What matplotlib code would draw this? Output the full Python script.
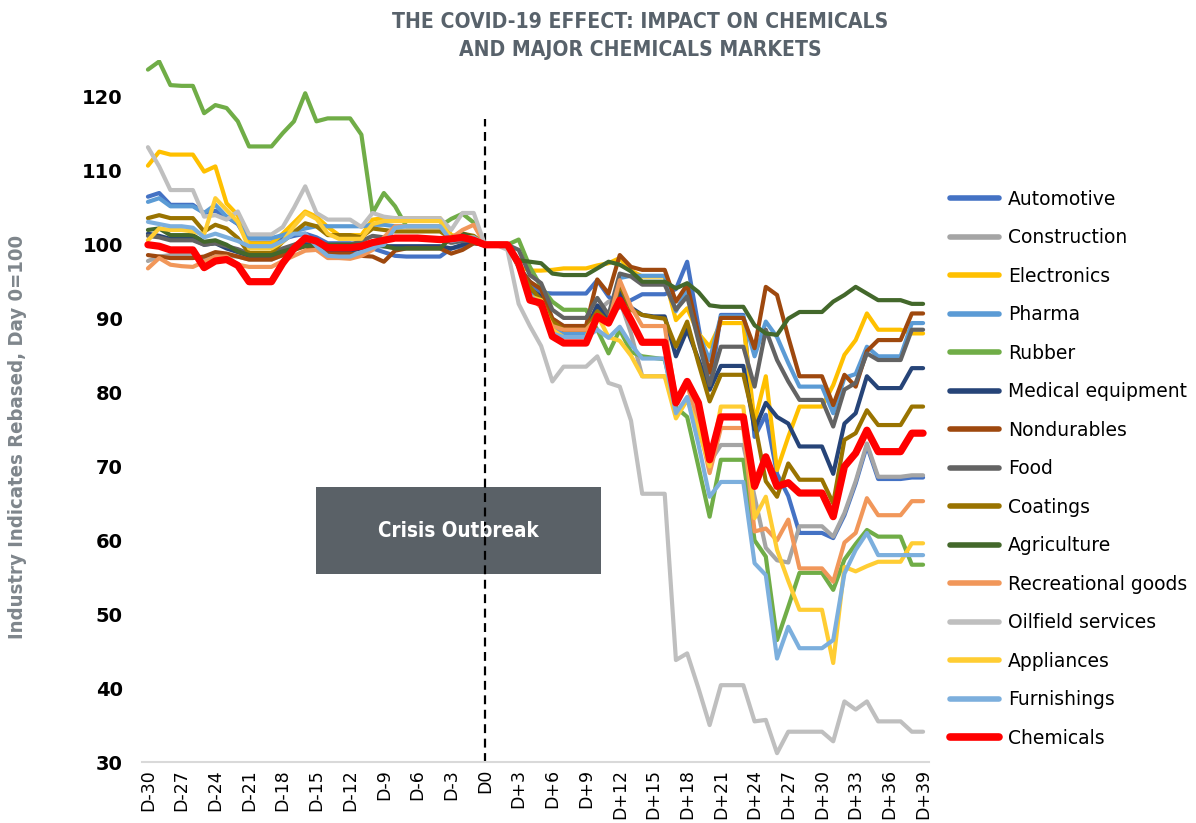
import numpy as np
import matplotlib
matplotlib.use('Agg')
import matplotlib.pyplot as plt
from matplotlib import font_manager
from matplotlib.patches import Rectangle

# narrow bold font for the title and axis label, if one is there
narrow_file = None
for f in font_manager.fontManager.ttflist:
    fn = f.fname.replace('-', '').replace('_', '').lower()
    if 'sansnarrowbold' in fn or 'sanscondensedbold' in fn:
        narrow_file = f.fname
        break

def narrow_font(size):
    if narrow_file:
        return font_manager.FontProperties(fname=narrow_file, size=size)
    return font_manager.FontProperties(family='DejaVu Sans', weight='bold', size=size * 0.88)

# day labels D-30 .. D+39
day_nums = list(range(-30, 40))
days = ['D0' if d == 0 else 'D%+d' % d for d in day_nums]

# index values (rebased, day 0 = 100)
automotive = [106.5, 107, 105.4, 105.4, 105.4, 104.3, 104.6, 103.8, 102.8, 100.3, 100.3, 100.3, 100.8, 101.2, 101.5,
              101, 100.2, 100.2, 100.2, 100, 99.5, 99, 98.5, 98.4, 98.4, 98.4, 98.4, 99.5, 99.8, 100.2,
              100, 100, 100, 97, 95, 93.5, 93.4, 93.4, 93.4, 93.4, 95.2, 93, 91.5, 92.5, 93.3, 93.3, 93.3,
              94, 97.7, 89, 80.4, 90.5, 90.5, 90.5, 74, 77, 69, 66, 61, 61, 61,
              60.3, 63.4, 67.7, 72.8, 68.3, 68.3, 68.3, 68.5, 68.5]
construction = [97.8, 98.4, 98.6, 98.6, 98.6, 98.2, 98.8, 98.5, 98.4, 98, 98, 98, 98.6, 99.2, 100.2,
                99.6, 99.2, 99.2, 99.2, 99.5, 100.2, 100.5, 100.8, 100.8, 100.8, 100.8, 100.8, 100.2, 100.6, 100.8,
                100, 100, 100, 97, 94, 93, 90, 89, 89, 89, 91, 92.3, 92.5, 88, 82.2, 82.2, 82.2,
                79, 81.3, 77, 70.5, 72.9, 72.9, 72.9, 65.9, 59, 57.3, 57, 61.9, 61.9, 61.9,
                60.5, 63.7, 68, 73.1, 68.6, 68.6, 68.6, 68.8, 68.8]
electronics = [110.7, 112.6, 112.2, 112.2, 112.2, 109.9, 110.6, 105.6, 104, 100.2, 100.2, 100.2, 101.5, 103, 104.5,
               103.8, 102.4, 101.3, 101.3, 101.3, 103.4, 103.6, 103.6, 103.6, 103.6, 103.6, 103.6, 101.3, 101.1, 101.1,
               100, 100, 100, 97, 96.5, 96.5, 96.6, 96.8, 96.8, 96.8, 97.2, 97.5, 98.2, 96.5, 95.7, 95.7, 95.7,
               89.8, 91.4, 88, 86.2, 89.4, 89.4, 89.4, 76, 82.2, 69.5, 74, 78.1, 78.1, 78.1,
               81, 85.1, 87.1, 90.7, 88.5, 88.5, 88.5, 88, 88]
pharma = [105.8, 106.3, 105.2, 105.2, 105.2, 104.3, 105.4, 103.8, 102.9, 100.9, 100.9, 100.9, 101.3, 101.8, 102.2,
          102.5, 102.5, 102.5, 102.5, 102.5, 102.7, 102.7, 102.5, 102.5, 102.5, 102.5, 102.5, 101, 100.7, 100.5,
          100, 100, 100, 97.5, 94, 92, 89, 88, 88, 88, 90.5, 90, 95.5, 95.8, 95.8, 95.8, 95.8,
          91, 94, 88, 84.4, 90.3, 90.3, 90.3, 84.9, 89.6, 87.5, 84, 80.8, 80.8, 80.8,
          77.2, 82, 82.5, 86.2, 84.9, 84.9, 84.9, 89.4, 89.4]
rubber = [123.7, 124.8, 121.6, 121.5, 121.5, 117.8, 118.9, 118.5, 116.7, 113.3, 113.3, 113.3, 115.1, 116.7, 120.5,
          116.7, 117.1, 117.1, 117.1, 114.9, 104.3, 107, 105.2, 102.5, 102.5, 102.5, 102.5, 103.5, 104.2, 103,
          100, 100, 100, 100.7, 97, 94.3, 92.3, 91.2, 91.2, 91.2, 88.5, 85.3, 88.5, 85.5, 84.9, 84.7, 84.5,
          78, 76.7, 70, 63.2, 70.9, 70.9, 70.9, 60, 57.8, 46.5, 51, 55.6, 55.6, 55.6,
          53.3, 57.4, 59.5, 61.4, 60.5, 60.5, 60.5, 56.7, 56.7]
medical = [101.5, 101.2, 100.8, 100.8, 100.8, 100, 100.2, 99.5, 99, 98.5, 98.5, 98.5, 99, 99.5, 100.3,
           99.8, 99.2, 99.2, 99.2, 99.5, 99.8, 99.8, 99.8, 99.8, 99.8, 99.8, 99.8, 99.5, 100, 100.3,
           100, 100, 100, 97, 94, 93, 89.5, 88.5, 88.5, 88.5, 91.8, 90, 93.5, 91.5, 90.5, 90.3, 90.3,
           84.9, 88.5, 84.5, 80.4, 83.6, 83.6, 83.6, 75, 78.6, 76.7, 75.8, 72.7, 72.7, 72.7,
           69, 75.8, 77.2, 82.2, 80.6, 80.6, 80.6, 83.3, 83.3]
nondurables = [98.6, 98.4, 98.2, 98.2, 98.2, 98.4, 99, 98.8, 98.4, 98, 98, 98, 98.6, 99.3, 99.8,
               99.3, 98.8, 98.8, 98.8, 98.5, 98.4, 97.7, 99.2, 99.5, 99.5, 99.5, 99.5, 98.8, 99.3, 100.2,
               100, 100, 100, 97, 95, 94, 90, 89, 89, 89, 95.3, 93.4, 98.6, 97, 96.6, 96.6, 96.6,
               92.3, 94.6, 88, 82.7, 90.1, 90.1, 90.1, 86, 94.3, 93.2, 87.5, 82.2, 82.2, 82.2,
               78.3, 82.4, 80.8, 85.6, 87.1, 87.1, 87.1, 90.7, 90.7]
food = [101.2, 101, 100.6, 100.6, 100.6, 100, 100.2, 99.8, 99.4, 98.8, 98.8, 98.8, 99.5, 100, 100.6,
        100.3, 100, 100, 100, 100.5, 101.2, 101, 100.9, 100.9, 100.9, 100.9, 100.9, 100.3, 100.5, 100.6,
        100, 100, 100, 99.3, 95.9, 94.8, 91.2, 90.1, 90.1, 90.1, 92.8, 90.5, 96.1, 95.7, 94.6, 94.6, 94.6,
        91.2, 93, 87, 81, 86.2, 86.2, 86.2, 80.8, 88.5, 84.4, 81.5, 79, 79, 79,
        75.4, 80.4, 81.3, 85.3, 84.4, 84.4, 84.4, 88.5, 88.5]
coatings = [103.6, 104, 103.6, 103.6, 103.6, 101.8, 102.7, 102.2, 100.9, 98.9, 98.9, 98.9, 100.4, 101.7, 102.9,
            102.5, 101.3, 101.3, 101.3, 101, 102.2, 102, 101.8, 101.8, 101.8, 101.8, 101.8, 100.9, 101.5, 101.2,
            100, 100, 100, 97, 94.3, 92.5, 89.6, 88.5, 88.5, 88.5, 91, 89.5, 94.6, 91.2, 90.5, 90.2, 90,
            86.2, 89.6, 84, 78.8, 82.4, 82.4, 82.4, 76, 68, 65.9, 70.4, 68.2, 68.2, 68.2,
            65, 73.6, 74.5, 77.6, 75.6, 75.6, 75.6, 78.1, 78.1]
agriculture = [102, 102.2, 101.3, 101.3, 101.3, 100.4, 100.6, 100, 99.1, 98.6, 98.6, 98.6, 99.1, 99.5, 99.8,
               100, 100, 100, 100, 100, 100, 99.8, 99.5, 99.5, 99.5, 99.5, 99.5, 101, 101.5, 101,
               100, 100, 100, 97.9, 97.7, 97.5, 96.1, 95.9, 95.9, 95.9, 96.8, 97.7, 97.3, 96.4, 95, 95, 95,
               94.1, 94.8, 93.6, 91.8, 91.6, 91.6, 91.6, 89.1, 88, 87.8, 90, 90.9, 90.9, 90.9,
               92.3, 93.2, 94.3, 93.4, 92.5, 92.5, 92.5, 92, 92]
recreational = [96.8, 98.2, 97.3, 97.1, 97, 97.7, 98.4, 98.4, 97.3, 97, 97, 97, 97.8, 98.5, 99.2,
                99.3, 98.2, 98.2, 98.1, 98.5, 99.3, 101, 102.5, 102.5, 102.5, 102.5, 102.5, 100.9, 102, 102.7,
                100, 100, 100, 97, 93, 91.5, 89, 88.5, 88.5, 88.5, 90.1, 89.5, 95.2, 91.6, 89, 89, 89,
                79, 81, 76, 69.1, 75.2, 75.2, 75.2, 61.2, 61.6, 60, 62.8, 56.2, 56.2, 56.2,
                54.4, 59.7, 61, 65.7, 63.4, 63.4, 63.4, 65.3, 65.3]
oilfield = [113.2, 110.6, 107.4, 107.4, 107.4, 103.8, 104, 103.4, 104.5, 101.4, 101.4, 101.4, 102.4, 105, 107.9,
            104.3, 103.4, 103.4, 103.4, 102.4, 104.3, 103.8, 103.6, 103.6, 103.6, 103.6, 103.6, 102, 104.3, 104.3,
            100, 100, 99.3, 92, 89, 86.3, 81.5, 83.5, 83.5, 83.5, 84.9, 81.3, 80.8, 76.2, 66.3, 66.3, 66.3,
            43.8, 44.7, 40, 35, 40.4, 40.4, 40.4, 35.5, 35.7, 31.2, 34.1, 34.1, 34.1, 34.1,
            32.8, 38.2, 37.1, 38.2, 35.5, 35.5, 35.5, 34.1, 34.1]
appliances = [100.6, 102.2, 102, 102, 101.8, 101.4, 106.3, 104.7, 103.1, 99.5, 99.5, 99.5, 100.4, 102.5, 104.3,
              103.5, 101.5, 100.8, 100.8, 100.8, 102.8, 103.2, 103.2, 103.2, 103.2, 103.2, 103.2, 100.8, 101, 101,
              100, 100, 100, 97, 93, 92.5, 88.5, 87.5, 87.5, 87.5, 90.5, 87.5, 87, 85, 82.2, 82.2, 82.2,
              76.5, 79, 75, 70, 78.1, 78.1, 78.1, 63, 65.9, 58.7, 54.5, 50.6, 50.6, 50.6,
              43.4, 56.4, 55.8, 56.5, 57.1, 57.1, 57.1, 59.6, 59.6]
furnishings = [103.1, 102.8, 102.5, 102.5, 102.3, 101, 101.5, 101, 100.5, 99.8, 99.8, 99.8, 100.5, 101.5, 101.5,
               99.8, 98.5, 98.4, 98.4, 99, 99.6, 100, 102.3, 102.5, 102.5, 102.5, 102.5, 100.5, 100.8, 101,
               100, 100, 100, 97, 93, 92, 88, 87.5, 87.5, 87.5, 88.5, 87.4, 88.9, 86.5, 84.6, 84.6, 84.6,
               77.2, 79.4, 73, 65.9, 67.9, 67.9, 67.9, 56.9, 55.3, 44, 48.3, 45.4, 45.4, 45.4,
               46.5, 55.5, 58.7, 61, 58, 58, 58, 58, 58]
chemicals = [100, 99.8, 99.3, 99.3, 99.3, 96.9, 97.8, 98, 97.2, 95, 95, 95, 97.5, 99.5, 100.9,
             100.5, 99.6, 99.6, 99.6, 99.8, 100.3, 100.6, 100.9, 100.9, 100.9, 100.8, 100.7, 100.8, 101, 100.6,
             100, 100, 100, 97.5, 92.5, 92.1, 87.6, 86.7, 86.7, 86.7, 90.3, 89.4, 92.5, 89.8, 86.8, 86.8, 86.8,
             78.6, 81.5, 78.6, 70.9, 76.7, 76.7, 76.7, 67.3, 71.3, 67.3, 67.8, 66.4, 66.4, 66.4,
             63.2, 70, 71.8, 74.9, 72, 72, 72, 74.5, 74.5]

series = [
    ('Automotive', automotive, '#4472C4'),
    ('Construction', construction, '#A5A5A5'),
    ('Electronics', electronics, '#FFC000'),
    ('Pharma', pharma, '#5B9BD5'),
    ('Rubber', rubber, '#70AD47'),
    ('Medical equipment', medical, '#264478'),
    ('Nondurables', nondurables, '#9E480E'),
    ('Food', food, '#636363'),
    ('Coatings', coatings, '#997300'),
    ('Agriculture', agriculture, '#43682B'),
    ('Recreational goods', recreational, '#F1975A'),
    ('Oilfield services', oilfield, '#BFBFBF'),
    ('Appliances', appliances, '#FFCD33'),
    ('Furnishings', furnishings, '#7CAFDD'),
    ('Chemicals', chemicals, '#FF0000'),
]

fig = plt.figure(figsize=(11.96, 8.23), dpi=100)
ax = fig.add_axes([0.119, 0.0741, 0.6575, 0.853])

x = np.arange(len(days))
for k, (name, vals, col) in enumerate(series):
    lw = 5.2 if name == 'Chemicals' else 3.0
    ax.plot(x, vals, color=col, lw=lw, label=name, zorder=3 + k,
            solid_joinstyle='round', solid_capstyle='round')

# day 0 marker
ax.vlines(30, 30, 117, colors='black', linestyles=(0, (4, 2.5)), lw=1.6, zorder=2)

# crisis box
ax.add_patch(Rectangle((15, 55.4), 25.3, 11.8, facecolor='#5A6167', edgecolor='none', zorder=1))
ax.text(27.65, 61.3, 'Crisis Outbreak', color='white', fontproperties=narrow_font(14.8),
        ha='center', va='center', zorder=2)

ax.set_xlim(-0.5, 69.5)
ax.set_ylim(30, 125)
ax.set_xticks(x[::3])
ax.set_xticklabels(days[::3], rotation=90, fontsize=12.5)
ax.set_yticks(np.arange(30, 121, 10))
ax.tick_params(axis='y', length=0, pad=14, labelsize=14)
ax.tick_params(axis='x', length=0, pad=5)
for lab in ax.get_yticklabels():
    lab.set_fontweight('bold')

for s in ['top', 'right', 'left']:
    ax.spines[s].set_visible(False)
ax.spines['bottom'].set_color('#D9D9D9')
ax.spines['bottom'].set_linewidth(1.5)

fig.text(18 / 1196, 1 - 437 / 823, 'Industry Indicates Rebased, Day 0=100', rotation=90,
         ha='center', va='center', fontproperties=narrow_font(14.6), color='#7F868C')

fig.text(0.535, 0.986, 'THE COVID-19 EFFECT: IMPACT ON CHEMICALS\nAND MAJOR CHEMICALS MARKETS',
         ha='center', va='top', fontproperties=narrow_font(15.1), color='#58626B',
         linespacing=1.5)

leg = fig.legend(loc='upper left', bbox_to_anchor=(0.78, 0.79), frameon=False,
                 fontsize=13.5, handlelength=2.6, handletextpad=0.5, labelspacing=1.04)
for h in leg.get_lines():
    h.set_linewidth(4.0)
leg.get_lines()[-1].set_linewidth(5.5)

fig.savefig('out.png', dpi=100)
